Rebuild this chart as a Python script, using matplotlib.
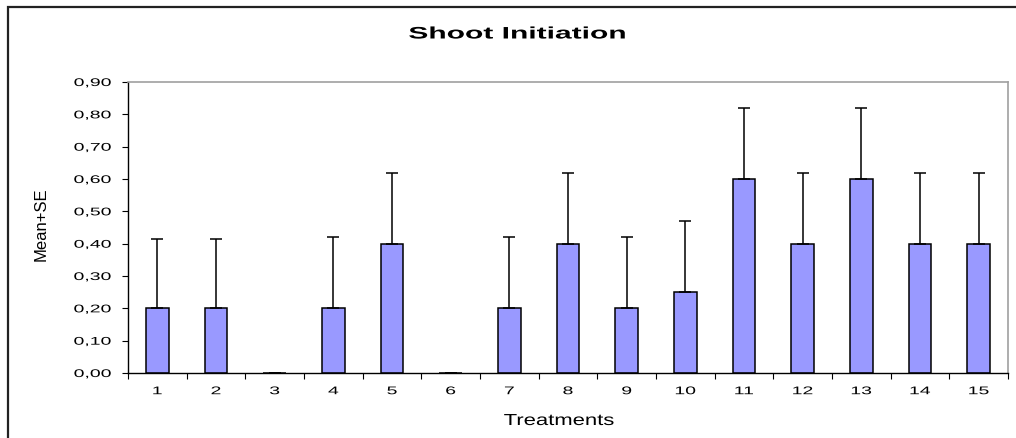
import matplotlib
matplotlib.use("Agg")
import matplotlib.pyplot as plt
from matplotlib.patches import Rectangle
from matplotlib.patheffects import AbstractPathEffect
from matplotlib.transforms import Affine2D
import numpy as np

treatments = ["1", "2", "3", "4", "5", "6", "7", "8", "9", "10", "11", "12", "13", "14", "15"]
means = [0.20, 0.20, 0.00, 0.20, 0.40, 0.00, 0.20, 0.40, 0.20, 0.25, 0.60, 0.40, 0.60, 0.40, 0.40]
se = [0.214, 0.214, 0.00, 0.22, 0.22, 0.00, 0.22, 0.22, 0.22, 0.22, 0.22, 0.22, 0.22, 0.22, 0.22]
yticks = [0.0, 0.1, 0.2, 0.3, 0.4, 0.5, 0.6, 0.7, 0.8, 0.9]
ytick_labels = ["0,00", "0,10", "0,20", "0,30", "0,40", "0,50", "0,60", "0,70", "0,80", "0,90"]

plt.rcParams['font.family'] = ['Liberation Sans', 'DejaVu Sans']


class Stretch(AbstractPathEffect):
    """Widen glyphs horizontally (along the text direction) around an anchor."""
    def __init__(self, sx, anchor="center"):
        super().__init__()
        self.sx = sx
        self.anchor = anchor

    def draw_path(self, renderer, gc, tpath, affine, rgbFace=None):
        ext = tpath.get_extents()
        if self.anchor == "right":
            a = ext.x1
        elif self.anchor == "left":
            a = ext.x0
        else:
            a = 0.5 * (ext.x0 + ext.x1)
        st = Affine2D().translate(-a, 0).scale(self.sx, 1.0).translate(a, 0)
        renderer.draw_path(gc, tpath, st + affine, rgbFace)


fig = plt.figure(figsize=(10.16, 4.38), dpi=100)
ax = fig.add_axes([128/1016, 1 - 373/438, 880/1016, 291/438])

x = np.arange(1, len(treatments) + 1)
ax.bar(x, means, width=0.39, color="#9999FF", edgecolor="black", linewidth=1.1, zorder=2)
ax.errorbar(x, means, yerr=[np.zeros(len(se)), se], fmt="none", ecolor="black",
            elinewidth=1.1, capsize=4.3, capthick=1.1, zorder=3)

ax.set_xlim(0.5, 15.5)
ax.set_ylim(0, 0.9)
ax.set_yticks(yticks)
ax.set_yticklabels(ytick_labels, fontsize=8)
ax.set_xticks(x)
ax.set_xticklabels(treatments, fontsize=8)
ax.set_xticks(np.arange(0.5, 15.6, 1.0), minor=True)
ax.tick_params(axis="x", which="major", length=0, pad=9.5)
ax.tick_params(axis="x", which="minor", length=4, width=0.8, direction="out")
ax.tick_params(axis="y", which="major", length=4.3, width=0.8, direction="out", pad=8)

for t in ax.xaxis.get_major_ticks():
    t.label1.set_path_effects([Stretch(1.75, "center")])
for t in ax.yaxis.get_major_ticks():
    t.label1.set_path_effects([Stretch(1.75, "right")])

for s in ["top", "right"]:
    ax.spines[s].set_color("#a0a0a0")
    ax.spines[s].set_linewidth(1.2)
for s in ["left", "bottom"]:
    ax.spines[s].set_color("black")
    ax.spines[s].set_linewidth(1.0)

fig.text(559/1016, 1 - 425/438, "Treatments", fontsize=11.5, ha="center", va="baseline",
         path_effects=[Stretch(1.38, "center")])
fig.text(41/1016, 1 - 224/438, "Mean+SE", rotation=90, fontsize=12,
         ha="center", va="center")
fig.text(517/1016, 1 - 38.5/438, "Shoot Initiation", fontsize=12, fontweight="bold",
         ha="center", va="baseline", path_effects=[Stretch(1.8, "center")])

fig.patches.append(Rectangle((8/1016, -0.1), 1.2, 1.1 - 7/438,
                             transform=fig.transFigure, fill=False,
                             edgecolor="#222222", linewidth=1.6, zorder=0))

fig.savefig("out.png", dpi=100)
